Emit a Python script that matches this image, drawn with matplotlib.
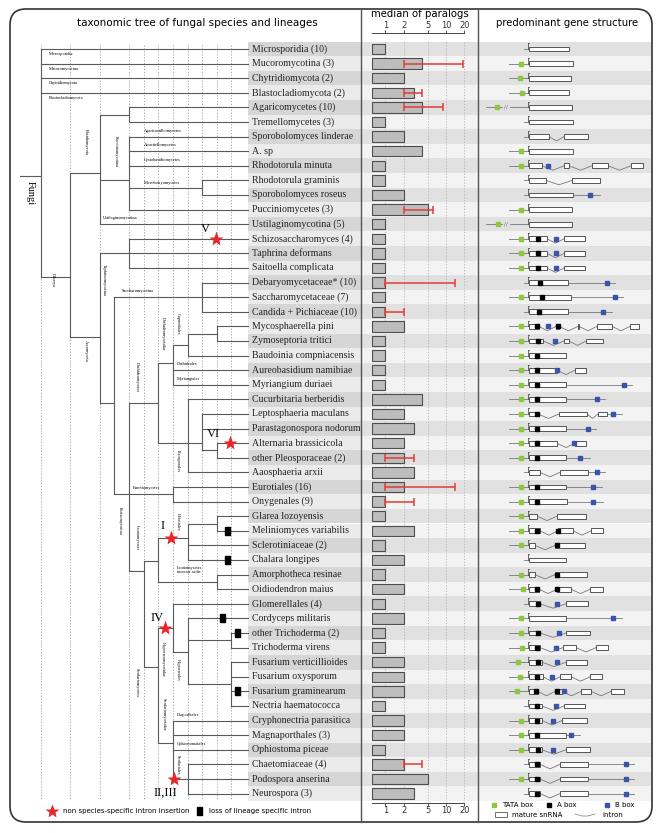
import matplotlib
matplotlib.use("Agg")
import matplotlib.pyplot as plt
from matplotlib.patches import FancyBboxPatch, Rectangle

W, H = 666, 833
ROW0, ROW_H = 49.0, 14.6      # centre of first row and row pitch (px)
COL0, COL_W = 41.0, 14.65     # root column and column pitch of the tree grid (px)
LEAF = 14.13                  # tree depth where the leaves end

species = [
    "Microsporidia (10)", "Mucoromycotina (3)", "Chytridiomycota (2)", "Blastocladiomycota (2)",
    "Agaricomycetes (10)", "Tremellomycetes (3)", "Sporobolomyces linderae", "A. sp",
    "Rhodotorula minuta", "Rhodotorula graminis", "Sporobolomyces roseus", "Pucciniomycetes (3)",
    "Ustilaginomycotina (5)", "Schizosaccharomyces (4)", "Taphrina deformans", "Saitoella complicata",
    "Debaryomycetaceae* (10)", "Saccharomycetaceae (7)", "Candida + Pichiaceae (10)", "Mycosphaerella pini",
    "Zymoseptoria tritici", "Baudoinia compniacensis", "Aureobasidium namibiae", "Myriangium duriaei",
    "Cucurbitaria berberidis", "Leptosphaeria maculans", "Parastagonospora nodorum", "Alternaria brassicicola",
    "other Pleosporaceae (2)", "Aaosphaeria arxii", "Eurotiales (16)", "Onygenales (9)",
    "Glarea lozoyensis", "Meliniomyces variabilis", "Sclerotiniaceae (2)", "Chalara longipes",
    "Amorphotheca resinae", "Oidiodendron maius", "Glomerellales (4)", "Cordyceps militaris",
    "other Trichoderma (2)", "Trichoderma virens", "Fusarium verticillioides", "Fusarium oxysporum",
    "Fusarium graminearum", "Nectria haematococca", "Cryphonectria parasitica", "Magnaporthales (3)",
    "Ophiostoma piceae", "Chaetomiaceae (4)", "Podospora anserina", "Neurospora (3)",
]

paralogs = [1, 4, 2, 3, 4, 1, 2, 4, 1, 1, 2, 5, 1, 1, 1, 1, 1, 1, 1, 2, 1, 1, 1, 1, 4, 2,
            3, 2, 2, 3, 2, 1, 1, 3, 1, 2, 1, 2, 1, 2, 1, 1, 2, 2, 2, 1, 2, 2, 1, 2, 5, 3]
err_rows = [1, 3, 4, 11, 16, 18, 28, 30, 31, 49]
err_lo = [2, 2, 2, 2, 1, 1, 1, 1, 1, 2]
err_hi = [19, 4, 9, 6, 14, 2, 3, 14, 3, 4]
paralog_ticks = [1, 2, 5, 10, 20]

# gene structure, positions relative to the transcription start
gene_tata = [None, -7, -8, -6, -31, None, None, -7, -7, None, None, -7, -30, -7, -7, -7,
             None, -7, None, -7, -7, -7, -7, -7, -7, -7, -7, -7, -7, None, -7, -7,
             -7, -7, -7, None, -7, -5, None, -7, -7, -6, -10, -8, -11, None, -7, -7,
             -7, None, -7, None]
gene_break = [4, 12]
gene_exons = [
    [(1, 41)], [(1, 45)], [(1, 43)], [(1, 41)], [(1, 44)], [(1, 45)],
    [(1, 21), (36, 60)], [(1, 45)], [(1, 14), (36, 41), (64, 80), (103, 115)],
    [(1, 18), (44, 72)], [(1, 45)], [(1, 44)], [(1, 44)],
    [(1, 19), (36, 57)], [(1, 19), (36, 57)], [(1, 19), (36, 57)],
    [(1, 40)], [(1, 43)], [(1, 40)],
    [(1, 11), (28, 31), (50, 51), (69, 84), (102, 111)], [(1, 15), (36, 41), (58, 75)],
    [(1, 38)], [(1, 29), (47, 58)], [(1, 38)], [(1, 38)], [(1, 10), (31, 59), (70, 79)],
    [(1, 38)], [(1, 29), (47, 58)], [(1, 38)], [(1, 12), (32, 60)], [(1, 38)], [(1, 39)],
    [(1, 9), (29, 58)], [(1, 12), (30, 45), (63, 75)], [(1, 7), (27, 57)], [(1, 38)],
    [(1, 7), (27, 59)], [(1, 11), (29, 43), (62, 75)], [(1, 12), (38, 60)], [(1, 38)],
    [(1, 12), (38, 62)], [(1, 12), (35, 48), (68, 80)], [(1, 14), (38, 59)],
    [(1, 15), (32, 43), (62, 74)], [(1, 10), (27, 34), (53, 63), (83, 96)],
    [(1, 14), (36, 57)], [(1, 14), (34, 59)], [(1, 38)], [(1, 14), (38, 62)],
    [(1, 12), (32, 60)], [(1, 12), (32, 60)], [(1, 12), (32, 60)],
]
gene_abox = [[], [], [], [], [], [], [], [], [], [], [], [], [], [10], [10], [10],
             [12], [14], [11], [9, 29.5], [10], [9], [9], [9], [9], [9], [9], [9], [9], [], [9], [9],
             [], [9, 30], [29], [], [29], [9, 29], [10], [], [10], [9], [10], [9], [8, 29], [9],
             [9], [9], [10], [9], [9], [9]]
gene_bbox = [[], [], [], [], [], [], [], [], [20], [], [62], [], [], [28], [28], [28],
             [79], [87], [75], [20], [27], [], [29], [96], [69], [85], [60], [46], [52], [69], [65], [65],
             [], [], [], [], [], [], [29], [85], [31], [28], [29], [24], [36], [28],
             [25], [43], [25], [98], [98], [98]]
gene_tail = {10: 72, 16: 87, 17: 95, 18: 84, 23: 104, 24: 77, 25: 94, 26: 68, 28: 62,
             29: 77, 30: 74, 31: 75, 39: 94, 47: 52, 49: 106, 50: 106, 51: 106}


# tree: (depth, stem row, children); an int child is a leaf row
def N(depth, stem, *kids):
    return (depth, stem, kids)


tree = N(0, 8.7, 0, 1, 2, 3,
         N(2, 15.6,
           N(4, 8.5, N(6, 4.5, 4, 5), N(6, 9.0, 6, 7, 8, N(11, 9.5, 9, 10), 11), 12),
           N(4, 19.7,
             N(6, 14, 13, 14, 15),
             N(5, 24.25,
               N(11, 17, 16, 17, 18),
               N(6, 30.5,
                 N(8, 24.25,
                   N(9, 21.5, N(10, 20.3, N(12, 19.5, 19, 20), 21), 22, 23),
                   N(10, 27, 24, N(11, 27, 25, 26, N(12, 27.5, 27, 28)), 29)),
                 N(9, 30.5, 30, 31),
                 N(7, 35.75,
                   N(8, 35.1, N(10, 33.5, N(12, 32.5, 32, 33), 34, 35), N(12, 36.5, 36, 37)),
                   N(8, 42.3,
                     N(9, 39.66, 38, N(10, 41.3, 39, N(13, 40.5, 40, 41), N(13, 43.5, 42, 43, 44, 45))),
                     N(9, 47.5, 46, 47, 48, N(10, 50, 49, 50, 51)))))))))

star_depth = [11.95, 12.9, 8.87, 8.46, 9.08]
star_row = [13, 27, 33.5, 39.66, 50]
star_text = ["V", "VI", "I", "IV", "II,III"]
loss_depth = [12.7, 12.7, 12.42, 13.38, 13.38]
loss_row = [33, 35, 39, 40, 44]

clade_h = [("Microsporidia", 0.55, 0.35), ("Mucoromycotina", 0.55, 1.35), ("Chytridiomycota", 0.55, 2.35),
           ("Blastocladiomycota", 0.55, 3.35), ("Agaricostilbomycetes", 7.0, 5.6),
           ("Atractiellomycetes", 7.0, 6.6), ("Cystobasidiomycetes", 7.0, 7.6),
           ("Microbotryomycetes", 7.0, 9.2), ("Ustilaginomycotina", 4.2, 11.6),
           ("Saccharomycotina", 5.5, 16.6), ("Dothideales", 9.3, 21.6), ("Myriangiales", 9.3, 22.6),
           ("Eurotiomycetes", 6.3, 30.1), ("Leotiomycetes\nincertae sedis", 9.3, 35.7),
           ("Diaporthales", 9.3, 45.6), ("Ophiostomatales", 9.3, 47.6)]
clade_v = [("Dikarya", 0.8, 15.8), ("Basidiomycota", 3.07, 6.4), ("Pucciniomycotina", 5.1, 7.05),
           ("Ascomycota", 3.07, 20.7), ("Taphrinomycotina", 4.3, 15.8), ("Dothideomycetes", 6.55, 22.5),
           ("Dothideomycetidae", 8.35, 19.5), ("Capnodiales", 9.35, 18.8), ("Pleosporales", 9.35, 28.2),
           ("Pezizomycotina", 5.4, 32.3), ("Leotiomycetes", 6.55, 33.5), ("Helotiales", 9.35, 32.4),
           ("Sordariomycetes", 6.55, 43.4), ("Hypocreomycetidae", 8.35, 41.8),
           ("Sordariomycetidae", 8.35, 45.6), ("Hypocreales", 9.35, 42.5), ("Sordariales", 9.35, 49.0)]

SERIF = "Liberation Serif"
LINE = "#5a5a5a"
n = len(species)

fig = plt.figure(figsize=(W / 100, H / 100), dpi=100)


def panel(x0, x1, y0=0, y1=H, z=1):
    ax = fig.add_axes([x0 / W, 1 - y1 / H, (x1 - x0) / W, (y1 - y0) / H])
    ax.set_ylim((y1 - ROW0) / ROW_H, (y0 - ROW0) / ROW_H)
    ax.patch.set_alpha(0)
    ax.set_zorder(z)
    return ax


# layout layer in pixels
bg = fig.add_axes([0, 0, 1, 1])
bg.set_xlim(0, W)
bg.set_ylim(H, 0)
bg.axis("off")
bg.set_zorder(0)

bands = panel(248, 652, z=0.5)
bands.set_xlim(248, 652)
bands.axis("off")
for i in range(n):
    dark = i % 2 == 0
    bands.add_patch(Rectangle((248, i - 0.5), 113, 1, color="#d6d6d6" if dark else "#ebebeb", lw=0))
    bands.add_patch(Rectangle((361, i - 0.5), 291, 1, color="#e1e1e1" if dark else "#f3f3f3", lw=0))

top = fig.add_axes([0, 0, 1, 1])
top.set_xlim(0, W)
top.set_ylim(H, 0)
top.axis("off")
top.patch.set_alpha(0)
top.set_zorder(5)
top.add_patch(FancyBboxPatch((10, 9), 642, 813, boxstyle="round,pad=0,rounding_size=16",
                             fc="none", ec="#333333", lw=1.2))
for xs in (361, 478):
    top.plot([xs, xs], [9, 822], color="#555555", lw=1.0)

bg.text(197, 23, "taxonomic tree of fungal species and lineages", ha="center", va="center", fontsize=7.5)
bg.text(420, 14, "median of paralogs", ha="center", va="center", fontsize=7.3)
bg.text(567, 23, "predominant gene structure", ha="center", va="center", fontsize=7.3)

# legends
bg.plot(52, 811, marker="*", color="#e8262a", ms=10, mec="none")
bg.text(63, 811, "non species-specific intron insertion", va="center", fontsize=5)
bg.add_patch(Rectangle((197, 807), 5, 8, color="black"))
bg.text(209, 811, "loss of lineage specific intron", va="center", fontsize=5)
for xm, col, lab in [(494, "#8dc63f", "TATA box"), (549, "black", "A box"), (607, "#3a55a8", "B box")]:
    bg.plot(xm, 805, marker="s", color=col, ms=2.5)
    bg.text(xm + 8, 805, lab, va="center", fontsize=5)
bg.add_patch(Rectangle((495, 812), 12, 5, fc="white", ec="#555555", lw=0.6))
bg.text(512, 815, "mature snRNA", va="center", fontsize=5)
bg.plot([575, 582, 588, 595], [814, 816, 816, 814], color="#777777", lw=0.5)
bg.text(602, 815, "intron", va="center", fontsize=5)

# tree
tr = panel(0, W, z=2)
tr.set_xlim(-COL0 / COL_W, (W - COL0) / COL_W)
tr.axis("off")
for d in [0, 2, 4, 6, 7, 8, 9, 10, 11, 12, 13]:
    tr.plot([d, d], [-0.25, 51.4], color="#9a9a9a", lw=0.6, ls=(0, (1.5, 2)), zorder=1)


def draw(node):
    depth, stem, kids = node
    ys = []
    for k in kids:
        if isinstance(k, int):
            y, x_end = k, LEAF
        else:
            y, x_end = k[1], k[0]
            draw(k)
        tr.plot([depth, x_end], [y, y], color=LINE, lw=0.8, zorder=2)
        ys.append(y)
    tr.plot([depth, depth], [min(ys + [stem]), max(ys + [stem])], color=LINE, lw=0.8, zorder=2)


draw(tree)
tr.plot([-1.43, 0], [tree[1], tree[1]], color=LINE, lw=0.8)
tr.text(-0.75, 9.9, "Fungi", rotation=270, ha="center", va="center", fontsize=7.5, family=SERIF)
for txt, d, r in clade_h:
    tr.text(d, r, txt, ha="left", va="center", fontsize=3.2, family=SERIF, linespacing=1.1)
for txt, d, r in clade_v:
    tr.text(d, r, txt, rotation=270, ha="center", va="center", fontsize=3.2, family=SERIF)

star_off = [(-0.7, -0.7), (-1.1, -0.6), (-0.55, -0.8), (-0.56, -0.7), (-0.6, 0.95)]
for d, r, t, (dx, dy) in zip(star_depth, star_row, star_text, star_off):
    tr.plot(d, r, marker="*", color="#e8262a", ms=11, mec="none", zorder=4)
    tr.text(d + dx, r + dy, t, ha="center", va="center", fontsize=9, family=SERIF, zorder=4)
for d, r in zip(loss_depth, loss_row):
    tr.add_patch(Rectangle((d - 0.17, r - 0.27), 0.34, 0.54, color="black", zorder=4))

for i, name in enumerate(species):
    tr.text(LEAF + 0.25, i, name, ha="left", va="center", fontsize=7.1, family=SERIF, color="#222222")

# median of paralogs
med = panel(372, 478, 33, 803, z=2)
med.set_xscale("log")
med.set_xlim(0.6, 33.7)
left = med.get_xlim()[0]
med.barh(range(n), [v - left for v in paralogs], left=left, height=0.72,
         color="#bdbdbd", edgecolor="#4d4d4d", lw=0.8, zorder=2)
for r, a, b in zip(err_rows, err_lo, err_hi):
    med.hlines(r, a, b, color="#e23b34", lw=1.1, zorder=3)
    med.vlines([a, b], r - 0.28, r + 0.28, color="#e23b34", lw=1.1, zorder=3)
med.vlines(paralog_ticks, -0.5, n - 0.5, color="#b0b0b0", lw=0.6, ls=(0, (1.5, 2)), zorder=1)
for s in ("left", "right"):
    med.spines[s].set_visible(False)
for s in ("top", "bottom"):
    med.spines[s].set_bounds(0.6, 20)
    med.spines[s].set_color("#444444")
    med.spines[s].set_linewidth(0.7)
med.set_xticks(paralog_ticks)
med.set_xticklabels([str(t) for t in paralog_ticks])
med.xaxis.set_minor_locator(matplotlib.ticker.NullLocator())
med.tick_params(axis="x", top=True, labeltop=True, labelsize=6, length=2, width=0.6,
                pad=0.3, colors="#333333")
med.set_yticks([])

# gene structure
gs = panel(478, 652, z=2)
gs.set_xlim(-50, 124)
gs.axis("off")
for i in range(n):
    tata = gene_tata[i]
    exons = gene_exons[i]
    if i in gene_break:
        gs.plot([-42, -26], [i, i], color="#777777", lw=0.6)
        gs.text(-22, i, "//", ha="center", va="center", fontsize=4, color="#777777")
        gs.plot([-18, 0], [i, i], color="#777777", lw=0.6)
    else:
        start = -19 if tata is not None else -4
        gs.plot([start, 0], [i, i], color="#777777", lw=0.6)
    gs.plot([0, 0], [i, i - 0.38], color="#555555", lw=0.6)
    gs.plot([0, 1], [i - 0.38, i - 0.38], color="#555555", lw=0.6)
    gs.plot([0, exons[0][0]], [i, i], color="#555555", lw=0.6)
    if i in gene_tail:
        gs.plot([exons[-1][1], gene_tail[i]], [i, i], color="#777777", lw=0.6, zorder=1)
    for (a1, b1), (a2, b2) in zip(exons[:-1], exons[1:]):
        mid = (b1 + a2) / 2
        gs.plot([b1, mid, a2], [i, i + 0.3, i], color="#777777", lw=0.6, zorder=1)
    for a, b in exons:
        gs.add_patch(Rectangle((a, i - 0.16), b - a, 0.32, fc="white", ec="#555555", lw=0.7, zorder=2))
    if tata is not None:
        gs.plot(tata, i, marker="s", color="#8dc63f", ms=2.3, zorder=3)
    for a in gene_abox[i]:
        gs.plot(a, i, marker="s", color="black", ms=2.3, zorder=3)
    for b in gene_bbox[i]:
        gs.plot(b, i, marker="s", color="#3a55a8", ms=2.3, zorder=3)

fig.savefig("out.png", dpi=100)
